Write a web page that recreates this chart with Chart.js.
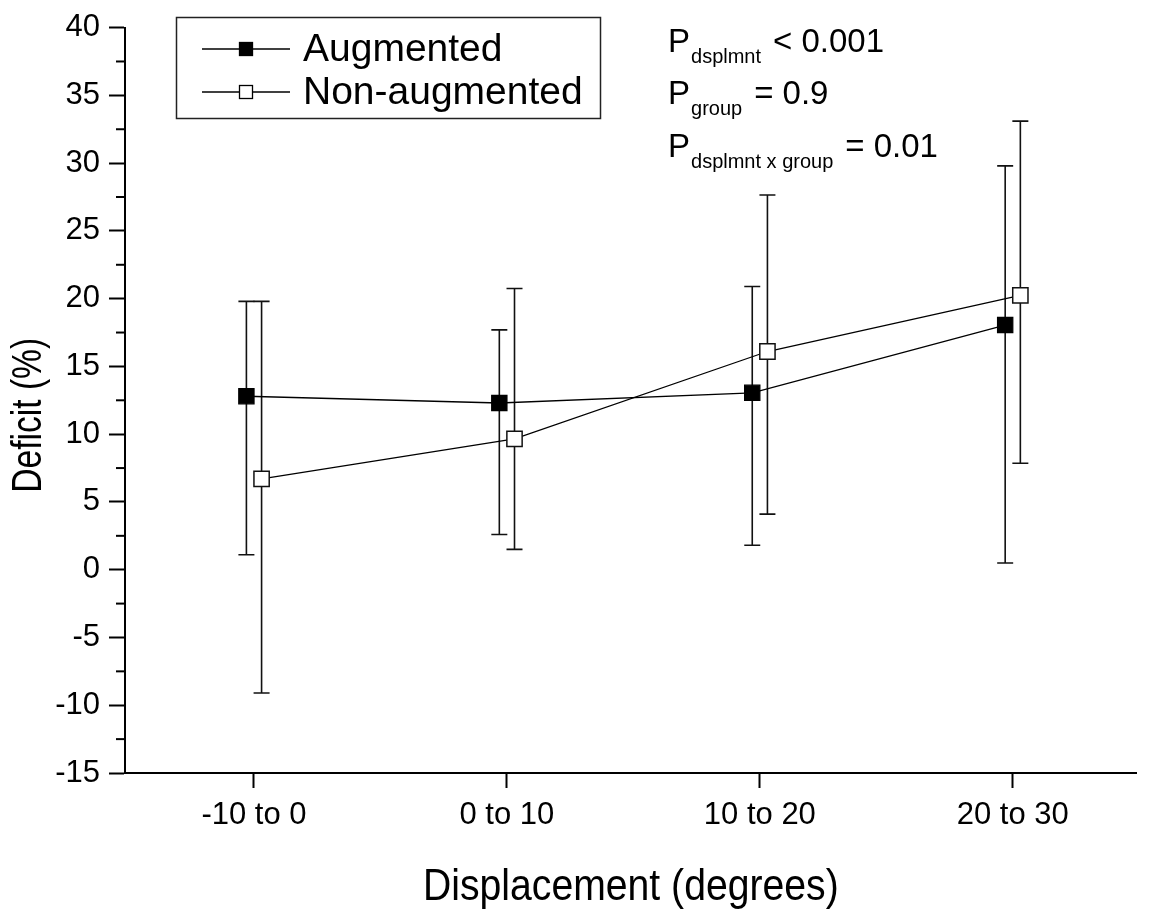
<!DOCTYPE html>
<html>
<head>
<meta charset="utf-8">
<script src="https://cdn.jsdelivr.net/npm/chart.js@4.4.1/dist/chart.umd.min.js"></script>
<style>
  html, body { margin: 0; padding: 0; background: #fff; }
  #wrap { width: 1149px; height: 910px; position: relative; }
</style>
</head>
<body>
<div id="wrap"><canvas id="c" width="1149" height="910"></canvas></div>
<script>
// ---- data ----
const categories = ["-10 to 0", "0 to 10", "10 to 20", "20 to 30"];
const seriesNames = ["Augmented", "Non-augmented"];
const augMean  = [12.8, 12.3, 13.05, 18.05];
const augUpper = [19.8, 17.7, 20.9, 29.8];
const augLower = [1.1, 2.6, 1.8, 0.5];
const nonMean  = [6.7, 9.65, 16.1, 20.25];
const nonUpper = [19.8, 20.75, 27.65, 33.1];
const nonLower = [-9.1, 1.5, 4.1, 7.85];
const yTicks = [-15, -10, -5, 0, 5, 10, 15, 20, 25, 30, 35, 40];
const xTitle = "Displacement (degrees)";
const yTitle = "Deficit (%)";
const pLines = [
  { sub: "dsplmnt", rest: "< 0.001" },
  { sub: "group", rest: "= 0.9" },
  { sub: "dsplmnt x group", rest: "= 0.01" }
];

const AUG_OFF = -0.03, NON_OFF = 0.03;
const FONT = "'Liberation Sans', Arial, sans-serif";

function pts(mean, off) { return mean.map((v, i) => ({ x: i + off, y: v })); }

const extras = {
  id: 'extras',
  beforeDatasetsDraw(chart) {
    const { ctx, scales: { x, y } } = chart;
    const sets = [
      { off: AUG_OFF, up: augUpper, lo: augLower },
      { off: NON_OFF, up: nonUpper, lo: nonLower }
    ];
    ctx.save();
    ctx.strokeStyle = '#111';
    ctx.lineWidth = 1.6;
    sets.forEach(s => {
      s.up.forEach((u, i) => {
        const px = x.getPixelForValue(i + s.off);
        const pu = y.getPixelForValue(u);
        const pl = y.getPixelForValue(s.lo[i]);
        ctx.beginPath();
        ctx.moveTo(px, pu); ctx.lineTo(px, pl);
        ctx.moveTo(px - 8, pu); ctx.lineTo(px + 8, pu);
        ctx.moveTo(px - 8, pl); ctx.lineTo(px + 8, pl);
        ctx.stroke();
      });
    });
    ctx.restore();
  },
  afterDraw(chart) {
    const { ctx, scales: { y } } = chart;
    const area = chart.chartArea;
    ctx.save();
    // minor ticks on y
    ctx.strokeStyle = '#000';
    ctx.lineWidth = 2;
    for (let i = 0; i < yTicks.length - 1; i++) {
      const v = (yTicks[i] + yTicks[i + 1]) / 2;
      const py = y.getPixelForValue(v);
      ctx.beginPath();
      ctx.moveTo(area.left - 9, py); ctx.lineTo(area.left, py);
      ctx.stroke();
    }
    // axis titles (condensed)
    ctx.fillStyle = '#000';
    ctx.textAlign = 'center';
    ctx.textBaseline = 'alphabetic';
    ctx.save();
    ctx.translate((area.left + area.right) / 2, 900);
    ctx.scale(0.89, 1);
    ctx.font = "44px " + FONT;
    ctx.fillText(xTitle, 0, 0);
    ctx.restore();
    ctx.save();
    ctx.translate(41, (area.top + area.bottom) / 2 + 15);
    ctx.rotate(-Math.PI / 2);
    ctx.scale(0.8, 1);
    ctx.font = "42px " + FONT;
    ctx.fillText(yTitle, 0, 0);
    ctx.restore();
    // legend
    ctx.lineWidth = 1.5;
    ctx.strokeStyle = '#222';
    ctx.strokeRect(176.5, 17.5, 424, 101);
    const rows = [{ y: 49, fill: '#000' }, { y: 92, fill: '#fff' }];
    rows.forEach((r, k) => {
      ctx.strokeStyle = '#000';
      ctx.lineWidth = 1.3;
      ctx.beginPath();
      ctx.moveTo(202, r.y); ctx.lineTo(290, r.y);
      ctx.stroke();
      ctx.fillStyle = r.fill;
      ctx.fillRect(239.5, r.y - 6.5, 13, 13);
      ctx.strokeRect(239.5, r.y - 6.5, 13, 13);
      ctx.fillStyle = '#000';
      ctx.font = "39px " + FONT;
      ctx.textBaseline = 'middle';
      ctx.textAlign = 'left';
      ctx.fillText(seriesNames[k], 303, r.y + 1);
    });
    // P annotations
    const baselines = [52, 104, 157];
    ctx.textBaseline = 'alphabetic';
    ctx.textAlign = 'left';
    pLines.forEach((p, k) => {
      const b = baselines[k];
      ctx.font = "33px " + FONT;
      ctx.fillText("P", 668, b);
      const pw = ctx.measureText("P").width;
      ctx.font = "20px " + FONT;
      ctx.fillText(p.sub, 668 + pw + 1, b + 11);
      const sw = ctx.measureText(p.sub).width;
      ctx.font = "33px " + FONT;
      ctx.fillText(p.rest, 668 + pw + 1 + sw + 12, b);
    });
    ctx.restore();
  }
};

new Chart(document.getElementById('c'), {
  type: 'scatter',
  data: {
    datasets: [
      {
        label: seriesNames[0],
        data: pts(augMean, AUG_OFF),
        showLine: true,
        borderColor: '#000',
        borderWidth: 1.3,
        pointStyle: 'rect',
        pointRadius: 10.8,
        pointBackgroundColor: '#000',
        pointBorderColor: '#000',
        pointBorderWidth: 1.2
      },
      {
        label: seriesNames[1],
        data: pts(nonMean, NON_OFF),
        showLine: true,
        borderColor: '#000',
        borderWidth: 1.3,
        pointStyle: 'rect',
        pointRadius: 10.8,
        pointBackgroundColor: '#fff',
        pointBorderColor: '#111',
        pointBorderWidth: 1.5
      }
    ]
  },
  options: {
    responsive: false,
    animation: false,
    layout: { padding: { top: 22, right: 9, left: 0, bottom: 0 } },
    plugins: { legend: { display: false }, tooltip: { enabled: false } },
    scales: {
      x: {
        type: 'linear',
        min: -0.51, max: 3.49,
        afterBuildTicks: (s) => { s.ticks = categories.map((c, i) => ({ value: i })); },
        afterFit: (s) => { s.height = 137; },
        ticks: {
          autoSkip: false, maxRotation: 0,
          color: '#000',
          font: { family: FONT, size: 31 },
          padding: 9,
          callback: (v) => categories[v]
        },
        grid: { drawOnChartArea: false, drawTicks: true, tickLength: 15, tickColor: '#000', tickWidth: 2 },
        border: { display: true, color: '#000', width: 2 },
        title: { display: false }
      },
      y: {
        min: -15, max: 40,
        afterBuildTicks: (s) => { s.ticks = yTicks.map(v => ({ value: v })); },
        afterFit: (s) => { s.width = 125; },
        ticks: {
          color: '#000',
          font: { family: FONT, size: 31 },
          padding: 9
        },
        grid: { drawOnChartArea: false, drawTicks: true, tickLength: 16, tickColor: '#000', tickWidth: 2 },
        border: { display: true, color: '#000', width: 2 },
        title: { display: false }
      }
    }
  },
  plugins: [extras]
});
</script>
</body>
</html>
